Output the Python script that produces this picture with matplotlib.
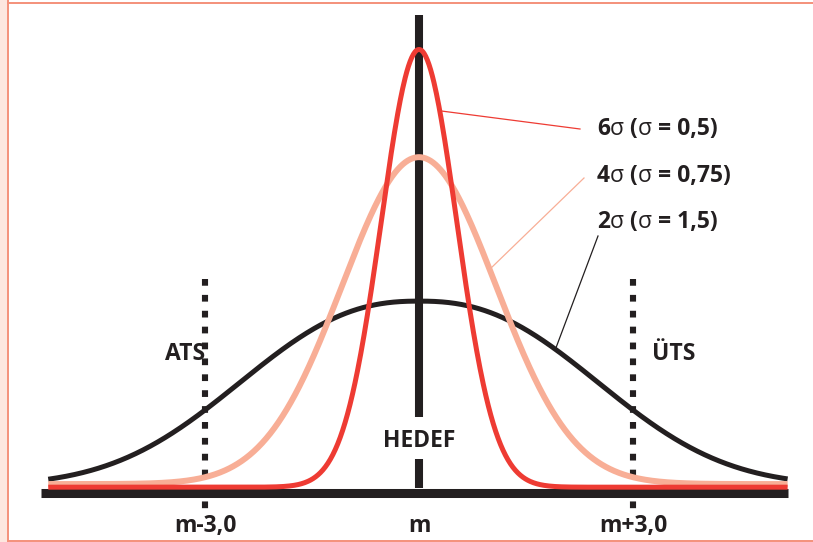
import numpy as np
import matplotlib
matplotlib.use("Agg")
import matplotlib.pyplot as plt
from matplotlib.patches import Rectangle
from matplotlib.lines import Line2D

# ---------------- data ----------------
series_labels = ["6σ (σ = 0,5)", "4σ (σ = 0,75)", "2σ (σ = 1,5)"]
drawn_width = [0.53, 1.08, 2.36]      # widths as drawn (x units)
shape_power = [2.0, 2.0, 2.4]         # curve shape exponent as drawn
peak_height = [1.0, 0.757, 0.432]     # relative peak heights
tail_level = [0.012, 0.019, 0.015]    # tail level above the axis
series_colors = ["#ee3b33", "#f8ae96", "#231f20"]
series_lw = [3.6, 4.3, 3.6]
leader_height = [0.861, 0.507, 0.326]  # height where each leader meets its curve (right side)

spec_limits = [-3.0, 3.0]
spec_labels = ["ATS", "ÜTS"]
tick_pos = [-3.0, 0.0, 3.0]
tick_labels = ["m-3,0", "m", "m+3,0"]
target_label = "HEDEF"
x_min, x_max = -5.2, 5.17

# ---------------- layout helpers (pixel -> data) ----------------
W, H = 813, 542
CX, PXU = 419.0, 71.3
BY, PYU = 492.5, 443.0
def X(px):
    return (px - CX) / PXU
def Y(py):
    return (BY - py) / PYU

plt.rcParams["font.family"] = ["Open Sans", "DejaVu Sans"]
TXT = "#231f20"
FS = 16.5

fig = plt.figure(figsize=(W / 100, H / 100), dpi=100)
ax = fig.add_axes([0, 0, 1, 1])
ax.set_xlim(X(0), X(W))
ax.set_ylim(Y(H), Y(0))
ax.axis("off")

# figure frame
fig.add_artist(Rectangle((0, 0), 7.5 / W, 1, transform=fig.transFigure,
                         facecolor="#fde7df", edgecolor="none", zorder=0))
fig.add_artist(Line2D([7.8 / W, 7.8 / W], [0, 1], transform=fig.transFigure,
                      color="#f4917a", lw=1.4))
fig.add_artist(Line2D([7.8 / W, 1], [1 - 2.5 / H, 1 - 2.5 / H], transform=fig.transFigure,
                      color="#f4917a", lw=1.4))
fig.add_artist(Line2D([7.8 / W, 1], [1.2 / H, 1.2 / H], transform=fig.transFigure,
                      color="#f4917a", lw=1.4))

# baseline axis bar
ax.plot([X(41), X(788)], [0, 0], color=TXT, lw=6.5, solid_capstyle="butt", zorder=2)

# target (HEDEF) bar
ax.plot([0, 0], [Y(15), Y(417)], color=TXT, lw=5.8, solid_capstyle="butt", zorder=2)
ax.plot([0, 0], [Y(459), Y(488)], color=TXT, lw=5.8, solid_capstyle="butt", zorder=2)
ax.text(0, Y(447), target_label, ha="center", va="baseline", fontsize=FS,
        fontweight="bold", color=TXT, zorder=6)

# spec limits
for xs in spec_limits:
    ax.plot([xs, xs], [Y(279), Y(510)], color=TXT, lw=4.4,
            dashes=(1.1, 1.5), dash_capstyle="butt", zorder=1)
ax.text(X(205), Y(360), spec_labels[0], ha="right", va="baseline", fontsize=FS,
        fontweight="bold", color=TXT)
ax.text(X(652), Y(360), spec_labels[1], ha="left", va="baseline", fontsize=FS,
        fontweight="bold", color=TXT)

# tick labels
for p, lab in zip(tick_pos, tick_labels):
    ax.text(p, Y(532), lab, ha="center", va="baseline", fontsize=FS,
            fontweight="bold", color=TXT)

# curves
x = np.linspace(x_min, x_max, 900)
def curve(xv, s, pw, pk, tl):
    return tl + (pk - tl) * np.exp(-0.5 * np.abs(xv / s) ** pw)
def curve_x_at(h, s, pw, pk, tl):
    r = (h - tl) / (pk - tl)
    return s * (-2 * np.log(r)) ** (1.0 / pw)

for i in [2, 1, 0]:
    y = curve(x, drawn_width[i], shape_power[i], peak_height[i], tail_level[i])
    ax.plot(x, y, color=series_colors[i], lw=series_lw[i], zorder=3 + (2 - i),
            solid_capstyle="butt")

# annotations with leader lines
text_pos = [(597, 135), (597, 181.7), (597, 228.3)]
leader_end = [(580, 129), (584, 178), (598, 236)]
for i in range(3):
    yc = leader_height[i]
    xc = curve_x_at(yc, drawn_width[i], shape_power[i], peak_height[i], tail_level[i])
    ex, ey = leader_end[i]
    ax.plot([xc + 0.03, X(ex)], [yc, Y(ey)], color=series_colors[i], lw=0.9, zorder=2)
    # label: digits/brackets bold, sigma glyph regular
    pieces = series_labels[i].split("σ")
    t = ax.text(X(text_pos[i][0]), Y(text_pos[i][1]), pieces[0], ha="left",
                va="baseline", fontsize=FS, fontweight="bold", color=TXT)
    for piece in pieces[1:]:
        t = ax.annotate("σ", xy=(1, 0), xycoords=t, ha="left", va="bottom",
                        fontsize=FS, fontweight="normal", color=TXT)
        t = ax.annotate(piece, xy=(1, 0), xycoords=t, ha="left", va="bottom",
                        fontsize=FS, fontweight="bold", color=TXT)

fig.savefig("out.png", dpi=100)
